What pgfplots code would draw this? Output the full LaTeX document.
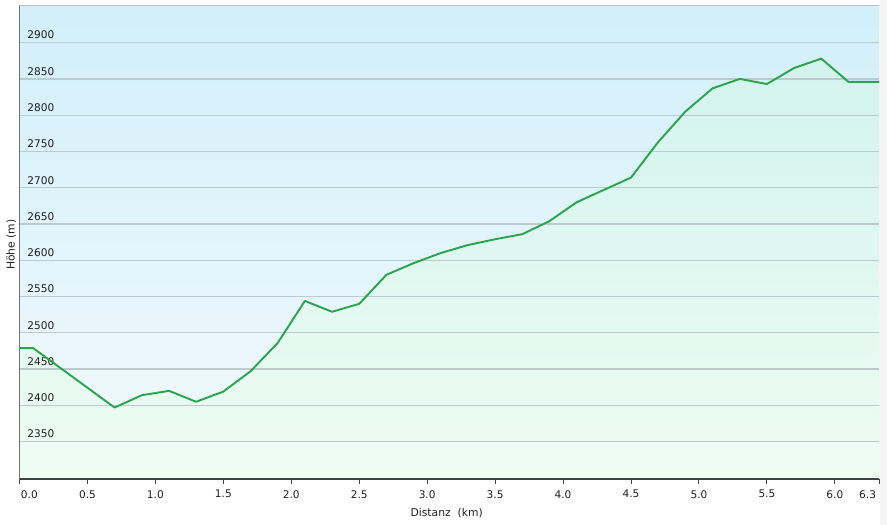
\documentclass[border=0pt]{standalone}
\usepackage{fontspec}
\setmainfont{DejaVu Sans}
\usepackage{pgfplots}
\usepackage{pgfplotstable}
\pgfplotsset{compat=1.18}
\definecolor{bgtop}{HTML}{D2EFFA}
\definecolor{bgbot}{HTML}{F3FAFD}
\definecolor{filltop}{HTML}{D3F3EE}
\definecolor{fillbot}{HTML}{EEFCF3}
\definecolor{linegreen}{HTML}{2AA44C}
\definecolor{gridc}{HTML}{BCC9CD}
\pgfplotstableread{
x y
0 2479
0.1 2479
0.7 2397
0.9 2414
1.1 2420
1.3 2405
1.5 2419
1.7 2447
1.9 2486
2.1 2544
2.3 2529
2.5 2540
2.7 2580
2.9 2596
3.1 2610
3.3 2621
3.5 2629
3.7 2636
3.9 2654
4.1 2680
4.3 2697
4.5 2714
4.7 2763
4.9 2805
5.1 2837
5.3 2850
5.5 2843
5.7 2865
5.9 2878
6.1 2846
6.325 2846
}\prof
\pgfplotsset{
  base/.style={
    at={(19.5bp,46bp)}, anchor=south west,
    scale only axis, width=859.5bp, height=473.7bp,
    xmin=0, xmax=6.325, ymin=2298.5, ymax=2951.5,
  }
}
\begin{document}
\begin{tikzpicture}
\useasboundingbox (0bp,0bp) rectangle (887bp,525bp);
\fill[black!4] (879.5bp,0bp) rectangle (887bp,525bp);
\shade[top color=bgtop, bottom color=bgbot] (19.5bp,46bp) rectangle (879bp,519.7bp);
\begin{axis}[base, hide axis]
\addplot[draw=none, top color=filltop, bottom color=fillbot] table[x=x,y=y] {\prof} \closedcycle;
\end{axis}
\begin{axis}[
  base,
  axis x line*=bottom, axis y line*=left,
  x axis line style={-, black!75, line width=1.3bp},
  y axis line style={-, black!55, line width=1.6bp},
  ymajorgrids, grid style={gridc, line width=1.2bp},
  ytick={2350,2400,...,2900},
  ytick style={draw=none},
  xtick={0,0.5,1,1.5,2,2.5,3,3.5,4,4.5,5,5.5,6,6.325},
  xticklabels={\makebox[0pt][l]{\hspace{1.5bp}0.0},0.5,1.0,1.5,2.0,2.5,3.0,3.5,4.0,4.5,5.0,5.5,6.0,\makebox[0pt][r]{6.3\hspace{3bp}}},
  tick align=outside,
  major tick length=5bp,
  xtick style={black!75, line width=1bp},
  /pgf/number format/assume math mode=true,
  /pgf/number format/1000 sep={},
  tick label style={font=\fontsize{10.6}{12}\selectfont, text=black!88},
  yticklabel style={anchor=base west, inner sep=0pt, xshift=12.8bp, yshift=3.7bp},
  xticklabel style={inner sep=0pt, yshift=-6bp},
  xlabel={Distanz\ \ (km)},
  ylabel={Höhe (m)},
  label style={font=\fontsize{10.8}{12}\selectfont, text=black!88},
  xlabel style={at={(axis description cs:0.497,0)}, anchor=base, yshift=-37bp},
  ylabel style={at={(axis description cs:0,0.495)}, anchor=base, yshift=5bp},
]
\addplot[linegreen, line width=1.9bp, line join=round] table[x=x,y=y] {\prof};
\draw[black!25, line width=1bp] (rel axis cs:0,1) -- (rel axis cs:1,1) -- (rel axis cs:1,0);
\end{axis}
\end{tikzpicture}
\end{document}
